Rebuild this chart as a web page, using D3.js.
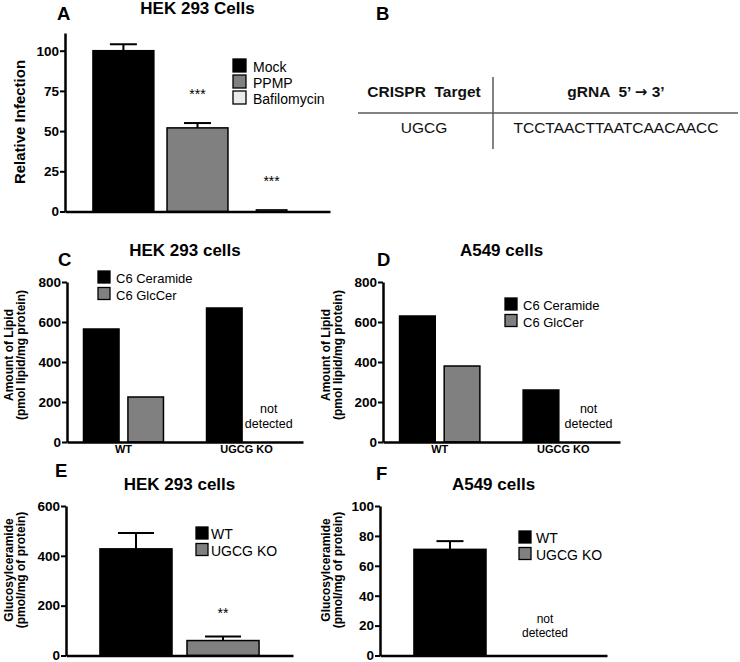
<!DOCTYPE html>
<html>
<head>
<meta charset="utf-8">
<script src="https://cdn.jsdelivr.net/npm/d3@7"></script>
<style>
  body { margin: 0; background: #fff; }
  svg { font-family: Arial, "Liberation Sans", sans-serif; }
</style>
</head>
<body>
<svg id="fig" width="740" height="662"></svg>
<script>
// Panel A - relative infection, HEK 293
const aGroups = ["Mock", "PPMP", "Bafilomycin"];
const aValues = [100, 52, 1];
const aErrors = [4, 3, 0];
const aStars = ["", "***", "***"];
const aTicks = [0, 25, 50, 75, 100];

// Panel B - gRNA table
const bHeader = ["CRISPR  Target", "gRNA  5\u2019 \u2192 3\u2019"];
const bRow = ["UGCG", "TCCTAACTTAATCAACAACC"];

// Panels C / D - C6 lipid amounts
const lipidGroups = ["WT", "UGCG KO"];
const lipidSeries = ["C6 Ceramide", "C6 GlcCer"];
const cCeramide = [565, 670];
const cGlcCer = [225, null];
const dCeramide = [630, 260];
const dGlcCer = [380, null];
const lipidTicks = [0, 200, 400, 600, 800];

// Panels E / F - glucosylceramide
const glcGroups = ["WT", "UGCG KO"];
const eValues = [428, 60];
const eErrors = [64, 16];
const eStars = ["", "**"];
const eTicks = [0, 200, 400, 600];
const fValues = [71, null];
const fErrors = [5.5, 0];
const fTicks = [0, 20, 40, 60, 80, 100];

const BLACK = "#000", GREY = "#808080", LIGHT = "#ebebeb";
const aColors = [BLACK, GREY, LIGHT];
const pairColors = [BLACK, GREY];

const svg = d3.select("#fig");

function yAxis(g, x0, y, ticks) {
  const ax = g.append("g")
    .attr("transform", `translate(${x0},0)`)
    .call(d3.axisLeft(y).tickValues(ticks).tickSize(5).tickSizeOuter(0).tickPadding(1));
  ax.attr("font-family", null).attr("font-size", null);
  ax.select(".domain").attr("stroke-width", 2.5);
  ax.selectAll(".tick line").attr("stroke-width", 2);
  ax.selectAll(".tick text").attr("font-size", 13.5).attr("font-weight", "bold").attr("fill", BLACK);
}

function xAxis(g, x, y0, showLabels) {
  const ax = g.append("g")
    .attr("transform", `translate(0,${y0})`)
    .call(d3.axisBottom(x).tickSize(0).tickSizeOuter(0).tickPadding(3));
  ax.attr("font-family", null).attr("font-size", null);
  ax.select(".domain").attr("stroke-width", 2.5);
  if (showLabels) {
    ax.selectAll(".tick text").attr("font-size", 11).attr("font-weight", "bold").attr("fill", BLACK);
  } else {
    ax.selectAll(".tick text").remove();
  }
}

function errorBars(g, data, cx, y, half) {
  const e = g.append("g").attr("stroke", BLACK).attr("stroke-width", 2);
  data.forEach(d => {
    e.append("line").attr("x1", cx(d)).attr("x2", cx(d))
      .attr("y1", y(d.value)).attr("y2", y(d.value + d.err));
    e.append("line").attr("x1", cx(d) - half).attr("x2", cx(d) + half)
      .attr("y1", y(d.value + d.err)).attr("y2", y(d.value + d.err));
  });
}

function legend(g, x, y, names, colors, size, gap, dx, fontSize) {
  const items = g.append("g").selectAll("g").data(names).join("g")
    .attr("transform", (d, i) => `translate(${x},${y + i * gap})`);
  items.append("rect").attr("width", size).attr("height", size)
    .attr("fill", (d, i) => colors[i]).attr("stroke", BLACK).attr("stroke-width", 1.3);
  items.append("text").attr("x", size + dx).attr("y", size)
    .attr("font-size", fontSize).text(d => d);
}

function title(g, cx, y, text) {
  g.append("text").attr("x", cx).attr("y", y).attr("text-anchor", "middle")
    .attr("font-size", 17).attr("font-weight", "bold").text(text);
}

function letter(g, x, y, text) {
  g.append("text").attr("x", x).attr("y", y)
    .attr("font-size", 18.5).attr("font-weight", "bold").text(text);
}

function yLabel(g, lines, xs, cy, fontSize) {
  lines.forEach((t, i) => {
    g.append("text")
      .attr("transform", `translate(${xs[i]},${cy}) rotate(-90)`)
      .attr("text-anchor", "middle").attr("font-size", fontSize).attr("font-weight", "bold")
      .text(t);
  });
}

function notDetected(g, cx, y1, y2, fontSize) {
  const t = g.append("text").attr("text-anchor", "middle").attr("font-size", fontSize);
  t.append("tspan").attr("x", cx).attr("y", y1).text("not");
  t.append("tspan").attr("x", cx).attr("y", y2).text("detected");
}

// ---------- Panel A ----------
(function () {
  const g = svg.append("g");
  const x = d3.scaleBand().domain(aGroups).range([65, 330]).paddingInner(0.178).paddingOuter(0.377);
  const y = d3.scaleLinear().domain([0, 111]).range([211.5, 33]);
  const data = aGroups.map((k, i) => ({ key: k, value: aValues[i], err: aErrors[i], color: aColors[i], star: aStars[i] }));
  const narrow = d => d.value < 5;

  g.selectAll("rect.bar").data(data).join("rect").attr("class", "bar")
    .attr("x", d => x(d.key) + (narrow(d) ? x.bandwidth() / 4 : 0))
    .attr("width", d => narrow(d) ? x.bandwidth() / 2 : x.bandwidth())
    .attr("y", d => y(d.value))
    .attr("height", d => y(0) - y(d.value))
    .attr("fill", d => d.color).attr("stroke", BLACK).attr("stroke-width", 1.5);

  errorBars(g, data.filter(d => d.err > 0), d => x(d.key) + x.bandwidth() / 2, y, 13.5);

  g.selectAll("text.star").data(data.filter(d => d.star)).join("text").attr("class", "star")
    .attr("x", d => x(d.key) + x.bandwidth() / 2)
    .attr("y", d => y(d.value + d.err) - 24)
    .attr("text-anchor", "middle").attr("font-size", 14).text(d => d.star);

  yAxis(g, 65, y, aTicks);
  xAxis(g, x, 211.5, false);
  legend(g, 233, 59, aGroups, aColors, 13, 16, 7, 14);
  title(g, 197.5, 14, "HEK 293 Cells");
  letter(g, 57, 20, "A");
  yLabel(g, ["Relative Infection"], [25], 122, 15);
})();

// ---------- Panel B ----------
(function () {
  const g = svg.append("g");
  letter(g, 376, 20, "B");
  const cols = [424, 616];
  g.append("line").attr("x1", 358).attr("x2", 738).attr("y1", 113).attr("y2", 113)
    .attr("stroke", "#5a5a5a").attr("stroke-width", 1.5);
  g.append("line").attr("x1", 493).attr("x2", 493).attr("y1", 77).attr("y2", 149)
    .attr("stroke", "#5a5a5a").attr("stroke-width", 1.5);
  const head = g.selectAll("text.head").data(bHeader).join("text").attr("class", "head")
    .attr("x", (d, i) => cols[i]).attr("y", 97).attr("text-anchor", "middle")
    .attr("font-size", 15.5).attr("font-weight", "bold").attr("fill", "#111")
    .style("white-space", "pre");
  // the arrow is set in DejaVu so it reads as a heavy glyph like the original
  head.each(function (d) {
    const parts = d.split("\u2192");
    const t = d3.select(this);
    parts.forEach((p, i) => {
      if (i > 0) t.append("tspan").attr("font-family", "DejaVu Sans").attr("font-size", 15).text("\u2192");
      t.append("tspan").text(p);
    });
  });
  g.selectAll("text.cell").data(bRow).join("text").attr("class", "cell")
    .attr("x", (d, i) => cols[i]).attr("y", 133).attr("text-anchor", "middle")
    .attr("font-size", 15.5).attr("fill", "#111").text(d => d);
})();

// ---------- Panels C / D ----------
function lipidPanel(cfg) {
  const g = svg.append("g");
  const x = d3.scaleBand().domain(lipidGroups).range([cfg.x0, cfg.x1]).paddingInner(0.35).paddingOuter(0.134);
  const sub = d3.scaleBand().domain(lipidSeries).range([0, x.bandwidth()]).paddingInner(0.2);
  const y = d3.scaleLinear().domain([0, 800]).range([442, 282]);
  const cells = [];
  lipidGroups.forEach((grp, gi) => {
    lipidSeries.forEach((s, si) => {
      const v = [cfg.ceramide, cfg.glccer][si][gi];
      cells.push({ grp, s, v, color: pairColors[si] });
    });
  });
  g.selectAll("rect.bar").data(cells.filter(d => d.v != null)).join("rect").attr("class", "bar")
    .attr("x", d => x(d.grp) + sub(d.s))
    .attr("width", sub.bandwidth())
    .attr("y", d => y(d.v))
    .attr("height", d => y(0) - y(d.v))
    .attr("fill", d => d.color).attr("stroke", BLACK).attr("stroke-width", 1.5);
  cells.filter(d => d.v == null).forEach(d => {
    notDetected(g, x(d.grp) + sub(d.s) + sub.bandwidth() / 2 + cfg.ndDx, 413, 428, 12.5);
  });
  yAxis(g, cfg.x0, y, lipidTicks);
  xAxis(g, x, 442, true);
  legend(g, cfg.legX, cfg.legY, lipidSeries, pairColors, 12, 16.5, 6, 13);
  title(g, (cfg.x0 + cfg.x1) / 2, 256, cfg.title);
  letter(g, cfg.letterX, 266, cfg.letter);
  yLabel(g, ["Amount of Lipid", "(pmol lipid/mg protein)"], cfg.labelX, 355, 12);
}

lipidPanel({ x0: 67, x1: 303, ceramide: cCeramide, glccer: cGlcCer, legX: 98, legY: 271,
  title: "HEK 293 cells", letter: "C", letterX: 58, labelX: [13, 25], ndDx: 0 });
lipidPanel({ x0: 383, x1: 620, ceramide: dCeramide, glccer: dGlcCer, legX: 505, legY: 298,
  title: "A549 cells", letter: "D", letterX: 377, labelX: [330, 342], ndDx: 3 });

// ---------- Panels E / F ----------
function glcPanel(cfg) {
  const g = svg.append("g");
  const x = d3.scaleBand().domain(glcGroups).range([cfg.x0, cfg.x1]).paddingInner(0.172).paddingOuter(0.39);
  const y = d3.scaleLinear().domain([0, cfg.max]).range([655.5, 506]);
  const data = glcGroups.map((k, i) => ({ key: k, value: cfg.values[i], err: cfg.errors[i], color: pairColors[i], star: cfg.stars[i] }));
  const cx = d => x(d.key) + x.bandwidth() / 2;
  const shown = data.filter(d => d.value != null);

  g.selectAll("rect.bar").data(shown).join("rect").attr("class", "bar")
    .attr("x", d => x(d.key))
    .attr("width", x.bandwidth())
    .attr("y", d => y(d.value))
    .attr("height", d => y(0) - y(d.value))
    .attr("fill", d => d.color).attr("stroke", BLACK).attr("stroke-width", 1.5);
  errorBars(g, shown.filter(d => d.err > 0), cx, y, cfg.cap);
  g.selectAll("text.star").data(shown.filter(d => d.star)).join("text").attr("class", "star")
    .attr("x", cx).attr("y", d => y(d.value + d.err) - 19)
    .attr("text-anchor", "middle").attr("font-size", 14).text(d => d.star);
  data.filter(d => d.value == null).forEach(d => notDetected(g, cx(d) + 8, 623, 637, 12));

  yAxis(g, cfg.x0, y, cfg.ticks);
  xAxis(g, x, 655.5, false);
  legend(g, cfg.legX, cfg.legY, glcGroups, pairColors, 12, 16.5, cfg.legDx, 14);
  title(g, (cfg.x0 + cfg.x1) / 2, 490, cfg.title);
  letter(g, cfg.letterX, cfg.letterY, cfg.letter);
  yLabel(g, ["Glucosylceramide", "(pmol/mg of protein)"], cfg.labelX, 570, 12);
}

glcPanel({ x0: 66, x1: 293, max: 600, values: eValues, errors: eErrors, stars: eStars, ticks: eTicks,
  cap: 18, legX: 196, legY: 527, legDx: 3, title: "HEK 293 cells", letter: "E", letterX: 55, letterY: 477, labelX: [13, 25] });
glcPanel({ x0: 380, x1: 607, max: 100, values: fValues, errors: fErrors, stars: ["", ""], ticks: fTicks,
  cap: 13.5, legX: 519, legY: 531, legDx: 5, title: "A549 cells", letter: "F", letterX: 376, letterY: 480, labelX: [330, 342] });
</script>
</body>
</html>
